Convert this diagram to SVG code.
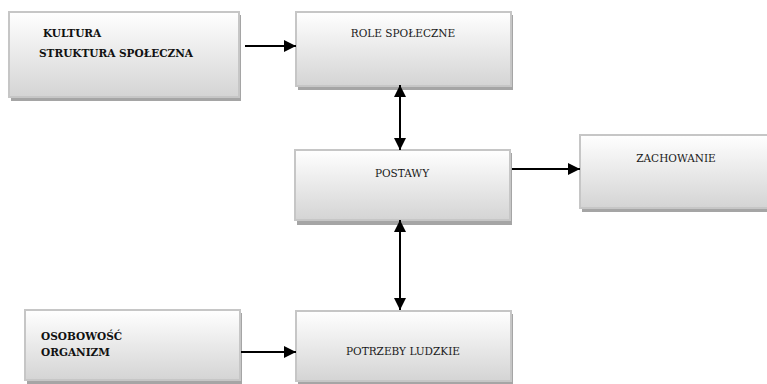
<svg xmlns="http://www.w3.org/2000/svg" width="767" height="384" viewBox="0 0 767 384">
<defs>
<linearGradient id="g" x1="0" y1="0" x2="0" y2="1">
<stop offset="0" stop-color="#ffffff"/>
<stop offset="1" stop-color="#d4d4d4"/>
</linearGradient>
<marker id="ah" viewBox="0 0 12 12" refX="12" refY="6" markerWidth="12" markerHeight="12" markerUnits="userSpaceOnUse" orient="auto-start-reverse">
<path d="M0,0 L12,6 L0,12 z" fill="#000"/>
</marker>
<style>
.sh{fill:#a5a5a5}
.bx{fill:url(#g);stroke:#c6c6c6;stroke-width:2}
text{font-family:'DejaVu Serif Condensed','DejaVu Serif',serif}
.t{font-size:11.7px;fill:#1a1a1a}
.b{font-size:11.7px;font-weight:bold;fill:#111}
.c{stroke:#000;stroke-width:2;fill:none}
</style>
</defs>
<rect width="767" height="384" fill="#fff"/>
<g id="kultura">
<rect class="sh" x="11" y="15" width="230" height="86"/>
<rect class="bx" x="9" y="12" width="230" height="85"/>
<text class="b" x="43" y="37">KULTURA</text>
<text class="b" x="39" y="57">STRUKTURA SPOŁECZNA</text>
</g>
<g id="role">
<rect class="sh" x="298" y="15" width="215" height="75"/>
<rect class="bx" x="296" y="12" width="215" height="74"/>
<text class="t" x="403" y="37" text-anchor="middle">ROLE SPOŁECZNE</text>
</g>
<g id="postawy">
<rect class="sh" x="297" y="153" width="215" height="72"/>
<rect class="bx" x="295" y="150" width="215" height="70"/>
<text class="t" x="402" y="177" text-anchor="middle">POSTAWY</text>
</g>
<g id="zachowanie">
<rect class="sh" x="582" y="138" width="190" height="74"/>
<rect class="bx" x="580" y="135" width="190" height="73"/>
<text class="t" x="676" y="162" text-anchor="middle">ZACHOWANIE</text>
</g>
<g id="osobowosc">
<rect class="sh" x="27" y="313" width="215" height="72"/>
<rect class="bx" x="25" y="310" width="215" height="70"/>
<text class="b" x="41" y="340">OSOBOWOŚĆ</text>
<text class="b" x="41" y="356">ORGANIZM</text>
</g>
<g id="potrzeby">
<rect class="sh" x="298" y="314" width="215" height="72"/>
<rect class="bx" x="296" y="311" width="215" height="70"/>
<text class="t" x="403" y="355" text-anchor="middle">POTRZEBY LUDZKIE</text>
</g>
<g id="connectors">
<line class="c" x1="245" y1="46" x2="296" y2="46" marker-end="url(#ah)"/>
<line class="c" x1="400" y1="85" x2="400" y2="150" marker-start="url(#ah)" marker-end="url(#ah)"/>
<line class="c" x1="512" y1="169" x2="580" y2="169" marker-end="url(#ah)"/>
<line class="c" x1="400" y1="220" x2="400" y2="310" marker-start="url(#ah)" marker-end="url(#ah)"/>
<line class="c" x1="241" y1="352" x2="296" y2="352" marker-end="url(#ah)"/>
</g>
</svg>
